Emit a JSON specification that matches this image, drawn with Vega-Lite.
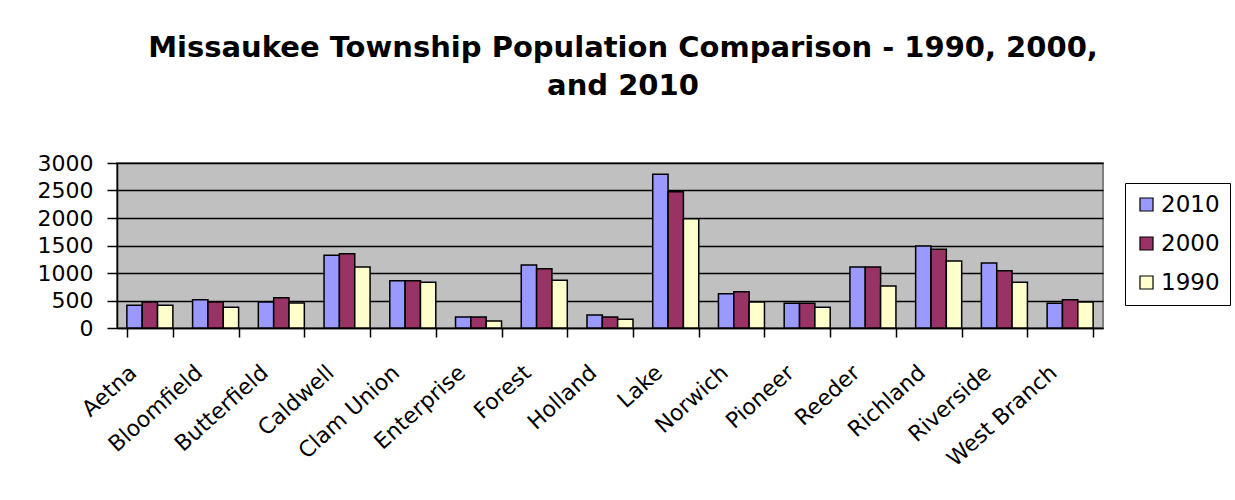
{
  "$schema": "https://vega.github.io/schema/vega-lite/v6.json",
  "width": 986,
  "height": 165,
  "autosize": {"type": "none"},
  "padding": {"left": 117, "top": 163, "right": 132, "bottom": 172},
  "background": "white",
  "title": {
    "text": ["Missaukee Township Population Comparison - 1990, 2000,", "and 2010"],
    "font": "DejaVu Sans",
    "fontSize": 29,
    "fontWeight": "bold",
    "color": "black",
    "lineHeight": 38,
    "anchor": "middle",
    "offset": 51,
    "dx": 13
  },
  "data": {
    "values": [
      {"township": "Aetna", "year": "2010", "population": 412},
      {"township": "Aetna", "year": "2000", "population": 473},
      {"township": "Aetna", "year": "1990", "population": 412},
      {"township": "Bloomfield", "year": "2010", "population": 515},
      {"township": "Bloomfield", "year": "2000", "population": 473},
      {"township": "Bloomfield", "year": "1990", "population": 376},
      {"township": "Butterfield", "year": "2010", "population": 473},
      {"township": "Butterfield", "year": "2000", "population": 552},
      {"township": "Butterfield", "year": "1990", "population": 455},
      {"township": "Caldwell", "year": "2010", "population": 1321},
      {"township": "Caldwell", "year": "2000", "population": 1352},
      {"township": "Caldwell", "year": "1990", "population": 1109},
      {"township": "Clam Union", "year": "2010", "population": 861},
      {"township": "Clam Union", "year": "2000", "population": 861},
      {"township": "Clam Union", "year": "1990", "population": 830},
      {"township": "Enterprise", "year": "2010", "population": 200},
      {"township": "Enterprise", "year": "2000", "population": 200},
      {"township": "Enterprise", "year": "1990", "population": 127},
      {"township": "Forest", "year": "2010", "population": 1145},
      {"township": "Forest", "year": "2000", "population": 1079},
      {"township": "Forest", "year": "1990", "population": 867},
      {"township": "Holland", "year": "2010", "population": 236},
      {"township": "Holland", "year": "2000", "population": 200},
      {"township": "Holland", "year": "1990", "population": 158},
      {"township": "Lake", "year": "2010", "population": 2794},
      {"township": "Lake", "year": "2000", "population": 2479},
      {"township": "Lake", "year": "1990", "population": 1988},
      {"township": "Norwich", "year": "2010", "population": 624},
      {"township": "Norwich", "year": "2000", "population": 661},
      {"township": "Norwich", "year": "1990", "population": 473},
      {"township": "Pioneer", "year": "2010", "population": 448},
      {"township": "Pioneer", "year": "2000", "population": 448},
      {"township": "Pioneer", "year": "1990", "population": 376},
      {"township": "Reeder", "year": "2010", "population": 1109},
      {"township": "Reeder", "year": "2000", "population": 1109},
      {"township": "Reeder", "year": "1990", "population": 764},
      {"township": "Richland", "year": "2010", "population": 1491},
      {"township": "Richland", "year": "2000", "population": 1430},
      {"township": "Richland", "year": "1990", "population": 1218},
      {"township": "Riverside", "year": "2010", "population": 1182},
      {"township": "Riverside", "year": "2000", "population": 1042},
      {"township": "Riverside", "year": "1990", "population": 830},
      {"township": "West Branch", "year": "2010", "population": 448},
      {"township": "West Branch", "year": "2000", "population": 515},
      {"township": "West Branch", "year": "1990", "population": 473}
    ]
  },
  "mark": {"type": "bar", "stroke": "black", "strokeWidth": 1.5},
  "encoding": {
    "x": {
      "field": "township",
      "type": "nominal",
      "sort": null,
      "title": null,
      "scale": {"paddingInner": 0.3, "paddingOuter": 0.15},
      "axis": {
        "labelAngle": -42,
        "labelAlign": "right",
        "labelBaseline": "middle",
        "labelFont": "DejaVu Sans",
        "labelFontSize": 22,
        "labelColor": "black",
        "labelOffset": -17,
        "labelPadding": 32,
        "domainColor": "black",
        "domainWidth": 1.5,
        "tickColor": "black",
        "tickWidth": 1.5,
        "tickSize": 9,
        "tickBand": "extent",
        "labelOverlap": false
      }
    },
    "xOffset": {"field": "year", "type": "nominal", "sort": ["2010", "2000", "1990"]},
    "y": {
      "field": "population",
      "type": "quantitative",
      "title": null,
      "scale": {"domain": [0, 3000], "nice": false},
      "axis": {
        "values": [0, 500, 1000, 1500, 2000, 2500, 3000],
        "format": "d",
        "labelFont": "DejaVu Sans",
        "labelFontSize": 22,
        "labelColor": "black",
        "labelPadding": 14,
        "domainColor": "black",
        "domainWidth": 1.5,
        "tickColor": "black",
        "tickWidth": 1.5,
        "tickSize": 10,
        "grid": true,
        "gridColor": "black",
        "gridWidth": 1.5,
        "gridOpacity": 1
      }
    },
    "color": {
      "field": "year",
      "type": "nominal",
      "sort": ["2010", "2000", "1990"],
      "scale": {"domain": ["2010", "2000", "1990"], "range": ["#9999FF", "#993366", "#FFFFCC"]},
      "legend": {
        "title": null,
        "orient": "none",
        "legendX": 1008,
        "legendY": 20,
        "fillColor": "white",
        "strokeColor": "black",
        "padding": 10,
        "rowPadding": 15,
        "symbolType": "square",
        "symbolSize": 170,
        "symbolStrokeColor": "black",
        "symbolStrokeWidth": 1.2,
        "labelFont": "DejaVu Sans",
        "labelFontSize": 23,
        "labelColor": "black",
        "labelOffset": 3
      }
    }
  },
  "config": {
    "view": {"fill": "#C0C0C0", "stroke": "#808080", "strokeWidth": 2}
  }
}
